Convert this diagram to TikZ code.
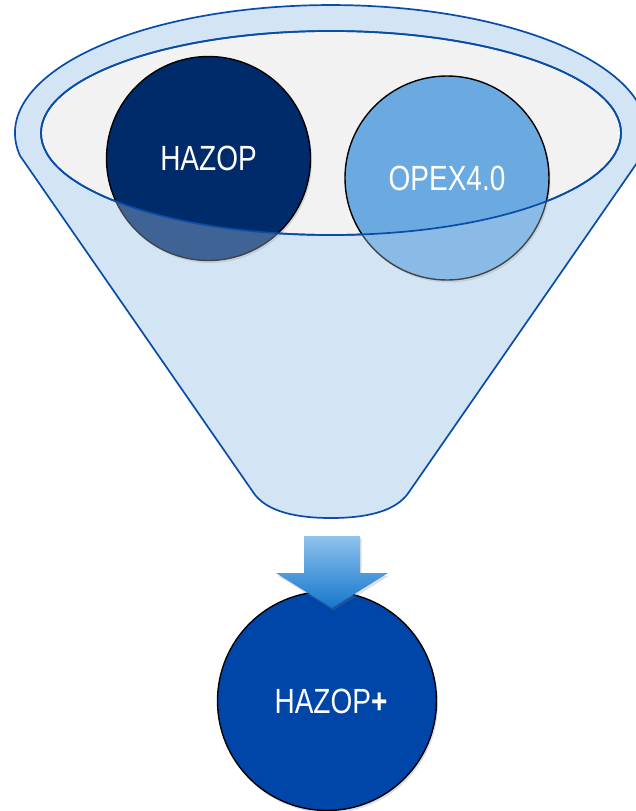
\documentclass[tikz,border=0pt]{standalone}
\usepackage{fontspec}
\newfontfamily\lab[FakeStretch=0.8]{Liberation Sans}
\usetikzlibrary{shadows}
\definecolor{funfill}{HTML}{D3E5F4}
\definecolor{funline}{HTML}{0A4DA6}
\definecolor{rimfill}{HTML}{F2F2F2}
\definecolor{hazopc}{HTML}{002B6B}
\definecolor{opexc}{HTML}{6AAAE1}
\definecolor{plusc}{HTML}{0045A8}
\definecolor{arrtop}{HTML}{90C2EC}
\definecolor{arrbot}{HTML}{1477CC}
\begin{document}
\begin{tikzpicture}[x=1pt,y=-1pt,
  ball/.style={circle, draw=black, line width=1.4pt, inner sep=0pt, text=white,
    font=\lab\fontsize{35}{40}\selectfont,
    drop shadow={shadow xshift=1.5pt, shadow yshift=-2.5pt, opacity=0.25}},
  rimline/.style={draw=funline, line width=1.7pt},
  tint/.style={fill=funfill, opacity=0.3, even odd rule}]
\useasboundingbox (0,0) rectangle (636,811);
\fill[white] (0,0) rectangle (636,811);
\def\funnelpath{(20,155.7) arc[start angle=169.8, end angle=370.2, x radius=316, y radius=128] -- (409,492) .. controls (396,512) and (365,518) .. (331,518) .. controls (297,518) and (266,512) .. (253,492) -- cycle}
\def\innerpath{(331,133) ellipse [x radius=290, y radius=102]}
% funnel body
\path[rimline, fill=funfill] \funnelpath;
% inner opening
\path[rimline, fill=rimfill] \innerpath;
% input circles
\node[ball, fill=hazopc, minimum size=204pt] (hazop) at (208.5,158.5) {HAZOP};
\node[ball, fill=opexc, minimum size=204pt] (opex) at (447,178) {OPEX4.0};
% front of funnel seen over the circles
\begin{scope}
  \clip (hazop.center) circle (104pt);
  \fill[tint] \funnelpath \innerpath;
\end{scope}
\begin{scope}
  \clip (opex.center) circle (104pt);
  \fill[tint] \funnelpath \innerpath;
\end{scope}
\path[rimline] \innerpath;
% output circle
\node[ball, fill=plusc, minimum size=219pt] (hplus) at (327,701) {\hspace*{8pt}HAZOP\textbf{+}};
% block arrow
\shade[top color=arrtop, bottom color=arrbot,
  drop shadow={shadow xshift=1.5pt, shadow yshift=-2.5pt, opacity=0.25}]
  (304,536) -- (360,536) -- (360,573) -- (388,573) -- (332,608) -- (276,573) -- (304,573) -- cycle;
\end{tikzpicture}
\end{document}
